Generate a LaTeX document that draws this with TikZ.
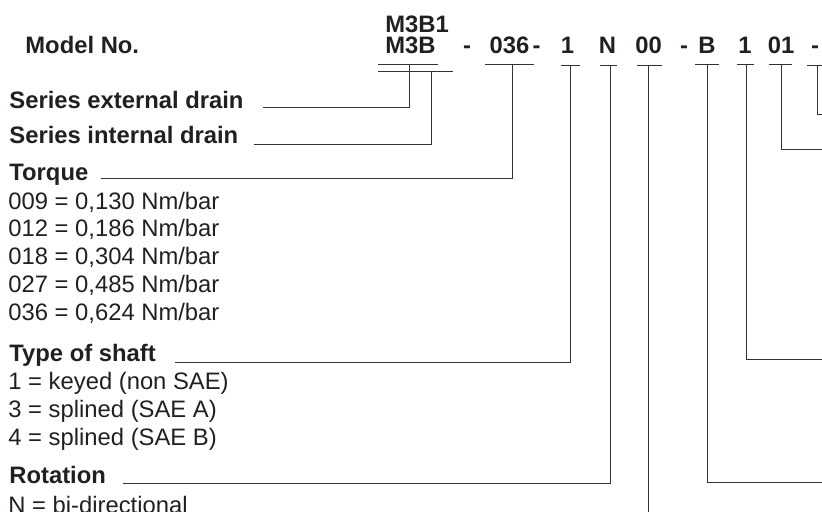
\documentclass[tikz,border=0pt]{standalone}
\usepackage{fontspec}
\setmainfont{Liberation Sans}
\definecolor{ink}{HTML}{231F20}
\tikzset{
  lbl/.style={anchor=base west, inner sep=0pt, text=ink, font=\bfseries},
  val/.style={anchor=base west, inner sep=0pt, text=ink},
  code/.style={anchor=base, inner sep=0pt, text=ink, font=\bfseries},
  lead/.style={draw=black!80, line width=0.5pt},
}
\begin{document}
\begin{tikzpicture}[x=0.5pt, y=-0.5pt]
\useasboundingbox (0,0) rectangle (822,511);
\clip (0,0) rectangle (822,511);
\fontsize{11.9}{14}\selectfont

% model number
\node[lbl] (model) at (25,53) {Model No.};
\node[code, anchor=base west] (m3b1) at (385,32) {M3B1};
\node[code, anchor=base west] (m3b) at (385,53) {M3B};
\node[code] (d1) at (467,53) {-};
\node[code] (c036) at (509.5,53) {036};
\node[code] (d2) at (536.5,53) {-};
\node[code] (cshaft) at (567.5,53) {1};
\node[code] (crot) at (607.5,53) {N};
\node[code] (c00) at (648.5,53) {00};
\node[code] (d3) at (684,53) {-};
\node[code] (cB) at (707,53) {B};
\node[code] (c1) at (745,53) {1};
\node[code] (c01) at (781,53) {01};
\node[code] (d4) at (815,53) {-};

% underlines
\draw[lead] (378,64) -- (438,64);
\draw[lead] (378,71) -- (453,71);
\draw[lead] (485,64) -- (534,64);
\draw[lead] (561,65) -- (580,65);
\draw[lead] (600,65) -- (617,65);
\draw[lead] (637,65) -- (662,65);
\draw[lead] (695,64) -- (719,64);
\draw[lead] (737,64) -- (754,64);
\draw[lead] (769,64) -- (792,64);
\draw[lead] (807,65) -- (830,65);

\coordinate (tExt) at (409,64);
\coordinate (tInt) at (431,71);
\coordinate (tTorque) at (512,64);
\coordinate (tShaft) at (570,65);
\coordinate (tRot) at (610,65);
\coordinate (t00) at (648,65);
\coordinate (tB) at (707,64);
\coordinate (t1) at (746,64);
\coordinate (t01) at (781,64);
\coordinate (tDash) at (817.5,65);

% left column
\node[lbl] (ext) at (9,108) {Series external drain};
\node[lbl] (int) at (9,143) {Series internal drain};
\node[lbl] (torque) at (9,180) {Torque};
\node[val] (v009) at (8,209) {009 = 0,130 Nm/bar};
\node[val] (v012) at (8,236.7) {012 = 0,186 Nm/bar};
\node[val] (v018) at (8,264.5) {018 = 0,304 Nm/bar};
\node[val] (v027) at (8,292.2) {027 = 0,485 Nm/bar};
\node[val] (v036) at (8,320) {036 = 0,624 Nm/bar};
\node[lbl] (shaft) at (9,361) {Type of shaft};
\node[val] (s1) at (8,389) {1 = keyed (non SAE)};
\node[val] (s3) at (8,417.5) {3 = splined (SAE A)};
\node[val] (s4) at (8,445.5) {4 = splined (SAE B)};
\node[lbl] (rot) at (9,483) {Rotation};
\node[val] (r1) at (8,513) {N = bi-directional};

% leaders
\draw[lead] ([xshift=9.5pt,yshift=0.5pt]ext.base east) -| (tExt);
\draw[lead] ([xshift=7.5pt,yshift=-0.5pt]int.base east) -| (tInt);
\draw[lead] ([xshift=6pt,yshift=1pt]torque.base east) -| (tTorque);
\draw[lead] ([xshift=9.5pt,yshift=-0.5pt]shaft.base east) -| (tShaft);
\draw[lead] ([xshift=8.5pt]rot.base east) -| (tRot);

\coordinate (e00) at (648,530);
\coordinate (eB) at (830,482);
\coordinate (e1) at (830,359);
\coordinate (e01) at (830,149);
\coordinate (eDash) at (830,114);
\draw[lead] (t00) -- (e00);
\draw[lead] (tB) |- (eB);
\draw[lead] (t1) |- (e1);
\draw[lead] (t01) |- (e01);
\draw[lead] (tDash) |- (eDash);
\end{tikzpicture}
\end{document}
